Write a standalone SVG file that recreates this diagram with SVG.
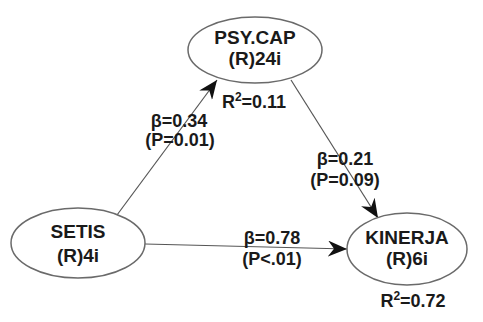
<svg xmlns="http://www.w3.org/2000/svg" width="483" height="322" viewBox="0 0 483 322">
<style>
.node{fill:#fff;stroke:#6a6a6a;stroke-width:1.5}
.t{font-family:"Liberation Sans",Arial,sans-serif;font-weight:bold;font-size:19px;fill:#1a1a1a;text-anchor:middle}
.l{font-family:"Liberation Sans",Arial,sans-serif;font-weight:bold;font-size:18px;fill:#1a1a1a;text-anchor:middle}
.e{stroke:#555;stroke-width:1.2;fill:none;marker-end:url(#ah)}
</style>
<defs>
<marker id="ah" markerUnits="userSpaceOnUse" markerWidth="20" markerHeight="16" viewBox="0 0 20 16" refX="19" refY="8" orient="auto">
<path d="M0,0 L19,8 L0,16 L6,8 Z" fill="#111"/>
</marker>
</defs>
<rect width="483" height="322" fill="#fff"/>
<g id="connectors">
<line class="e" x1="117" y1="215" x2="217" y2="80"/>
<line class="e" x1="291" y1="80" x2="378" y2="218"/>
<line class="e" x1="145" y1="244" x2="347" y2="249"/>
</g>
<g id="psycap">
<ellipse class="node" cx="255" cy="50" rx="67" ry="33"/>
<text class="t" x="255" y="44">PSY.CAP</text>
<text class="t" x="255" y="65">(R)24i</text>
</g>
<g id="setis">
<ellipse class="node" cx="78" cy="243" rx="67" ry="35"/>
<text class="t" x="78" y="238">SETIS</text>
<text class="t" x="78" y="262">(R)4i</text>
</g>
<g id="kinerja">
<ellipse class="node" cx="407" cy="249" rx="60" ry="36"/>
<text class="t" x="407" y="244">KINERJA</text>
<text class="t" x="407" y="265">(R)6i</text>
</g>
<g id="labels">
<text class="l" x="254" y="108">R<tspan dy="-7" font-size="12">2</tspan><tspan dy="7">=0.11</tspan></text>
<text class="l" x="413" y="307">R<tspan dy="-7" font-size="12">2</tspan><tspan dy="7">=0.72</tspan></text>
<text class="l" x="179" y="127">β=0.34</text>
<text class="l" x="180" y="146">(P=0.01)</text>
<text class="l" x="345" y="165">β=0.21</text>
<text class="l" x="345" y="186">(P=0.09)</text>
<text class="l" x="272" y="244">β=0.78</text>
<text class="l" x="272" y="265">(P&lt;.01)</text>
</g>
</svg>
